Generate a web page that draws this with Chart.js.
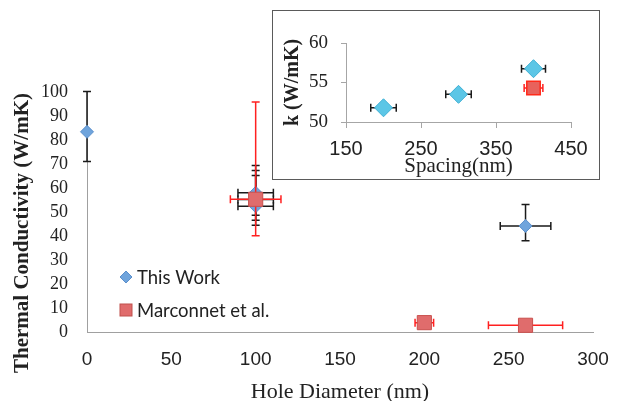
<!DOCTYPE html>
<html>
<head>
<meta charset="utf-8">
<script src="https://cdn.jsdelivr.net/npm/chart.js@4"></script>
<style>
  body { margin: 0; background: #fff; }
  #wrap { position: relative; width: 618px; height: 401px; }
  #mainChart { position: absolute; left: 0; top: 0; }
  #insetBox { position: absolute; left: 272px; top: 10px; width: 326px; height: 168px;
              border: 1.5px solid #5a5a5a; background: #fff; }
</style>
</head>
<body>
<div id="wrap">
  <canvas id="mainChart" width="618" height="401"></canvas>
  <div id="insetBox"><canvas id="insetChart" width="326" height="168"></canvas></div>
</div>
<script>
// main chart: hole diameter vs k
const xTicks = [0, 50, 100, 150, 200, 250, 300];
const yTicks = [0, 10, 20, 30, 40, 50, 60, 70, 80, 90, 100];

const holeThisWork = [0, 100, 100, 100, 260];
const kThisWork = [83.4, 52.4, 55.2, 58.0, 44.2];
const kThisWorkErrUp = [16.8, 12.8, 12.1, 11.4, 8.9];
const kThisWorkErrDown = [12.4, 7.9, 8.6, 9.4, 6.2];
const holeThisWorkErr = [0, 10.5, 10.5, 10.5, 15];

const holeMarconnet = [100, 200, 260];
const kMarconnet = [55.3, 3.9, 2.8];
const kMarconnetErrUp = [40.5, 0, 0];
const kMarconnetErrDown = [15.2, 0, 0];
const holeMarconnetErr = [15, 5.5, 22];

// inset: spacing vs k
const insetXTicks = [150, 250, 350, 450];
const insetYTicks = [50, 55, 60];
const spacingThisWork = [200, 300, 400];
const kSpacingThisWork = [51.8, 53.5, 56.75];
const spacingThisWorkErr = [17, 17, 16];
const spacingMarconnet = [400];
const kSpacingMarconnet = [54.3];
const spacingMarconnetErr = [12.5];

const seriesNames = ['This Work', 'Marconnet et al.'];

Chart.defaults.font.family = '"Liberation Serif", "Times New Roman", serif';
Chart.defaults.color = '#222';

function pts(xs, ys) {
    return xs.map((x, i) => ({x: x, y: ys[i]}));
}

// error bars drawn just before each dataset's markers
const errorBars = {
    id: 'errorBars',
    beforeDatasetDraw(chart, args) {
        const ds = chart.data.datasets[args.index];
        if (!ds.err) return;
        const ctx = chart.ctx;
        const xs = chart.scales.x, ys = chart.scales.y;
        const cap = ds.err.cap || 4;
        ctx.save();
        ctx.strokeStyle = ds.err.color;
        ctx.lineWidth = 1.5;
        ds.data.forEach((p, i) => {
            const px = xs.getPixelForValue(p.x);
            const py = ys.getPixelForValue(p.y);
            ctx.beginPath();
            const ex = ds.err.x ? ds.err.x[i] : 0;
            if (ex) {
                const l = xs.getPixelForValue(p.x - ex), r = xs.getPixelForValue(p.x + ex);
                ctx.moveTo(l, py); ctx.lineTo(r, py);
                ctx.moveTo(l, py - cap); ctx.lineTo(l, py + cap);
                ctx.moveTo(r, py - cap); ctx.lineTo(r, py + cap);
            }
            const up = ds.err.up ? ds.err.up[i] : 0;
            const down = ds.err.down ? ds.err.down[i] : 0;
            if (up || down) {
                const t = ys.getPixelForValue(p.y + up), b = ys.getPixelForValue(p.y - down);
                ctx.moveTo(px, t); ctx.lineTo(px, b);
                ctx.moveTo(px - cap, t); ctx.lineTo(px + cap, t);
                ctx.moveTo(px - cap, b); ctx.lineTo(px + cap, b);
            }
            ctx.stroke();
        });
        ctx.restore();
    }
};

// rotated y title + legend inside the plot, placed like the original
const mainDecor = {
    id: 'mainDecor',
    afterDraw(chart) {
        const ctx = chart.ctx;
        ctx.save();
        ctx.translate(23, 233);
        ctx.rotate(-Math.PI / 2);
        ctx.font = 'bold 21px "Liberation Serif"';
        ctx.fillStyle = '#222';
        ctx.textAlign = 'center';
        ctx.textBaseline = 'middle';
        ctx.fillText('Thermal Conductivity (W/mK)', 0, 0);
        ctx.restore();

        ctx.save();
        // diamond
        ctx.fillStyle = '#6fa4dc';
        ctx.strokeStyle = '#5a8fcc';
        ctx.beginPath();
        ctx.moveTo(126, 271); ctx.lineTo(132, 277); ctx.lineTo(126, 283); ctx.lineTo(120, 277);
        ctx.closePath(); ctx.fill(); ctx.stroke();
        // square
        ctx.fillStyle = '#e06c6c';
        ctx.strokeStyle = '#c0504d';
        ctx.fillRect(120, 304, 12, 12);
        ctx.strokeRect(120, 304, 12, 12);
        ctx.fillStyle = '#222';
        ctx.font = '18.5px Lato';
        ctx.textBaseline = 'middle';
        ctx.fillText(seriesNames[0], 137, 278);
        ctx.fillText(seriesNames[1], 137, 311);
        ctx.restore();
    }
};

new Chart(document.getElementById('mainChart'), {
    type: 'scatter',
    data: {
        datasets: [{
            label: seriesNames[0],
            data: pts(holeThisWork, kThisWork),
            pointStyle: 'rectRot',
            pointRadius: 6.5,
            backgroundColor: '#6fa4dc',
            borderColor: '#5a8fcc',
            borderWidth: 1,
            order: 2,
            clip: false,
            err: {x: holeThisWorkErr, up: kThisWorkErrUp, down: kThisWorkErrDown, color: '#1a1a1a', cap: 4}
        }, {
            label: seriesNames[1],
            data: pts(holeMarconnet, kMarconnet),
            pointStyle: 'rect',
            pointRadius: 10,
            backgroundColor: '#e06c6c',
            borderColor: '#c9504d',
            borderWidth: 1,
            order: 1,
            clip: false,
            err: {x: holeMarconnetErr, up: kMarconnetErrUp, down: kMarconnetErrDown, color: '#ff2020', cap: 4}
        }]
    },
    options: {
        responsive: false,
        animation: false,
        events: [],
        layout: {padding: {top: 92, right: 25, left: 0, bottom: 0}},
        plugins: {legend: {display: false}, tooltip: {enabled: false}},
        scales: {
            x: {
                type: 'linear', min: 0, max: 300,
                afterBuildTicks: s => { s.ticks = xTicks.map(v => ({value: v})); },
                afterFit: s => { s.height = 69; s.paddingLeft = 0; s.paddingRight = 0; },
                grid: {display: false, drawTicks: false},
                border: {display: true, color: '#a0a0a0', width: 1},
                ticks: {padding: 16, autoSkip: false, font: {family: '"Liberation Sans"', size: 19}, color: '#222'},
                title: {display: true, text: 'Hole Diameter (nm)', font: {size: 22, lineHeight: 0.8}, padding: {top: 0, bottom: 0}, color: '#222'}
            },
            y: {
                type: 'linear', min: 0, max: 100,
                afterBuildTicks: s => { s.ticks = yTicks.map(v => ({value: v})); },
                afterFit: s => { s.width = 87; },
                grid: {display: false, drawTicks: false},
                border: {display: true, color: '#a0a0a0', width: 1},
                ticks: {padding: 19, autoSkip: false, font: {size: 18}, color: '#222'}
            }
        }
    },
    plugins: [errorBars, mainDecor]
});

new Chart(document.getElementById('insetChart'), {
    type: 'scatter',
    data: {
        datasets: [{
            label: seriesNames[0],
            data: pts(spacingThisWork, kSpacingThisWork),
            pointStyle: 'rectRot',
            pointRadius: 9,
            backgroundColor: '#5cc6e6',
            borderColor: '#3fb0d4',
            borderWidth: 1,
            order: 2,
            clip: false,
            err: {x: spacingThisWorkErr, color: '#1a1a1a', cap: 4}
        }, {
            label: seriesNames[1],
            data: pts(spacingMarconnet, kSpacingMarconnet),
            pointStyle: 'rect',
            pointRadius: 9.5,
            backgroundColor: '#e8625c',
            borderColor: '#ff2a1a',
            borderWidth: 1.5,
            order: 1,
            clip: false,
            err: {x: spacingMarconnetErr, color: '#ff2020', cap: 4}
        }]
    },
    options: {
        responsive: false,
        animation: false,
        events: [],
        layout: {padding: {top: 32, right: 28, left: 0, bottom: 0}},
        plugins: {legend: {display: false}, tooltip: {enabled: false}},
        scales: {
            x: {
                type: 'linear', min: 150, max: 450,
                afterBuildTicks: s => { s.ticks = insetXTicks.map(v => ({value: v})); },
                afterFit: s => { s.height = 57; },
                grid: {display: true, drawOnChartArea: false, drawTicks: true, tickLength: 6, color: '#a6a6a6'},
                border: {display: true, color: '#a6a6a6', width: 1},
                ticks: {padding: 9, autoSkip: false, font: {family: '"Liberation Sans"', size: 20}, color: '#222'},
                title: {display: true, text: 'Spacing(nm)', font: {size: 21}, padding: {top: 0, bottom: 0}, color: '#222'}
            },
            y: {
                type: 'linear', min: 50, max: 60,
                afterBuildTicks: s => { s.ticks = insetYTicks.map(v => ({value: v})); },
                afterFit: s => { s.width = 73; },
                grid: {display: true, drawOnChartArea: false, drawTicks: true, tickLength: 5, color: '#a6a6a6'},
                border: {display: true, color: '#a6a6a6', width: 1},
                ticks: {padding: 13, autoSkip: false, font: {size: 19}, color: '#222'},
                title: {display: true, text: 'k (W/mK)', font: {size: 20, weight: 'bold'}, padding: {top: 8, bottom: 0}, color: '#222'}
            }
        }
    },
    plugins: [errorBars]
});
</script>
</body>
</html>
